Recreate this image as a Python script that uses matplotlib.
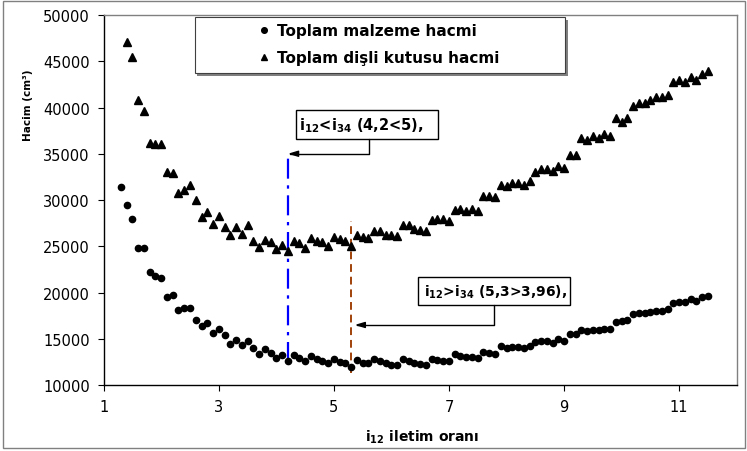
import matplotlib
matplotlib.use('Agg')
import matplotlib.pyplot as plt
from matplotlib.patches import Rectangle

plt.rcParams['font.family'] = ['DejaVu Sans']
plt.rcParams['mathtext.fontset'] = 'dejavusans'

# ---------------- data ----------------
ratio_malzeme = [1.3, 1.4, 1.5, 1.6, 1.7, 1.8, 1.9, 2.0, 2.1, 2.2, 2.3, 2.4, 2.5, 2.6, 2.7,
                 2.8, 2.9, 3.0, 3.1, 3.2, 3.3, 3.4, 3.5, 3.6, 3.7, 3.8, 3.9, 4.0, 4.1, 4.2,
                 4.3, 4.4, 4.5, 4.6, 4.7, 4.8, 4.9, 5.0, 5.1, 5.2, 5.3, 5.4, 5.5, 5.6, 5.7,
                 5.8, 5.9, 6.0, 6.1, 6.2, 6.3, 6.4, 6.5, 6.6, 6.7, 6.8, 6.9, 7.0, 7.1, 7.2,
                 7.3, 7.4, 7.5, 7.6, 7.7, 7.8, 7.9, 8.0, 8.1, 8.2, 8.3, 8.4, 8.5, 8.6, 8.7,
                 8.8, 8.9, 9.0, 9.1, 9.2, 9.3, 9.4, 9.5, 9.6, 9.7, 9.8, 9.9, 10.0, 10.1, 10.2,
                 10.3, 10.4, 10.5, 10.6, 10.7, 10.8, 10.9, 11.0, 11.1, 11.2, 11.3, 11.4, 11.5]
hacim_malzeme = [31440, 29460, 27950, 24780, 24780, 22180, 21750, 21570, 19480, 19730,
                 18110, 18290, 18290, 17030, 16410, 16730, 15650, 16090, 15400, 14430,
                 14900, 14290, 14760, 14000, 13380, 13860, 13420, 12920, 13280, 12600,
                 13280, 12920, 12600, 13100, 12780, 12600, 12350, 12780, 12490, 12350,
                 11980, 12670, 12350, 12350, 12780, 12600, 12350, 12160, 12160, 12810,
                 12560, 12350, 12300, 12160, 12810, 12740, 12630, 12600, 13310, 13170,
                 13060, 13060, 12920, 13600, 13420, 13380, 14180, 13970, 14140, 14140,
                 14000, 14180, 14620, 14760, 14790, 14570, 14940, 14760, 15480, 15510,
                 15990, 15800, 15950, 15980, 16090, 16090, 16840, 16890, 17030, 17640,
                 17780, 17780, 17890, 18030, 18030, 18220, 18860, 19000, 19000, 19330,
                 19080, 19480, 19620]

ratio_kutu = [1.4, 1.5, 1.6, 1.7, 1.8, 1.9, 2.0, 2.1, 2.2, 2.3, 2.4, 2.5, 2.6, 2.7,
              2.8, 2.9, 3.0, 3.1, 3.2, 3.3, 3.4, 3.5, 3.6, 3.7, 3.8, 3.9, 4.0, 4.1, 4.2,
              4.3, 4.4, 4.5, 4.6, 4.7, 4.8, 4.9, 5.0, 5.1, 5.2, 5.3, 5.4, 5.5, 5.6, 5.7,
              5.8, 5.9, 6.0, 6.1, 6.2, 6.3, 6.4, 6.5, 6.6, 6.7, 6.8, 6.9, 7.0, 7.1, 7.2,
              7.3, 7.4, 7.5, 7.6, 7.7, 7.8, 7.9, 8.0, 8.1, 8.2, 8.3, 8.4, 8.5, 8.6, 8.7,
              8.8, 8.9, 9.0, 9.1, 9.2, 9.3, 9.4, 9.5, 9.6, 9.7, 9.8, 9.9, 10.0, 10.1, 10.2,
              10.3, 10.4, 10.5, 10.6, 10.7, 10.8, 10.9, 11.0, 11.1, 11.2, 11.3, 11.4, 11.5]
hacim_kutu = [47110, 45420, 40840, 39650, 36160, 36050, 36050, 33000, 32890, 30760,
              31050, 31650, 29970, 28170, 28670, 27440, 28300, 27080, 26220, 27110,
              26360, 27260, 25600, 24950, 25710, 25490, 24700, 25130, 24520, 25600,
              25320, 24840, 25890, 25600, 25490, 25060, 25970, 25780, 25530, 25060,
              26220, 25970, 25890, 26650, 26650, 26250, 26220, 26140, 27260, 27260,
              26900, 26790, 26650, 27840, 27910, 27910, 27700, 28950, 28990, 28770,
              28990, 28770, 30430, 30460, 30290, 31620, 31480, 31840, 31840, 31620,
              32090, 33000, 33310, 33310, 33160, 33640, 33450, 34830, 34830, 36670,
              36500, 36950, 36700, 37100, 36950, 38830, 38460, 38830, 40130, 40490,
              40490, 40780, 41100, 41100, 41380, 42720, 43010, 42720, 43330, 43010,
              43620, 43950]

x_ticks = [1, 3, 5, 7, 9, 11]
y_ticks = [10000, 15000, 20000, 25000, 30000, 35000, 40000, 45000, 50000]

secim1_x = 4.2
secim1_y = [12500, 35000]
secim2_x = 5.3
secim2_y = [11300, 27700]

label_malzeme = 'Toplam malzeme hacmi'
label_kutu = 'Toplam dişli kutusu hacmi'
note1 = r'$\mathbf{i_{12}}$<$\mathbf{i_{34}}$ (4,2<5),'
note2 = r'$\mathbf{i_{12}}$>$\mathbf{i_{34}}$ (5,3>3,96),'

# ---------------- figure ----------------
fig = plt.figure(figsize=(7.47, 4.52), dpi=100)
fig.patches.append(Rectangle((3 / 747, 3 / 452), 742 / 747, 447 / 452,
                             transform=fig.transFigure, fill=False,
                             edgecolor='#808080', lw=1.0))

ax = fig.add_axes([0.1388, 0.1460, 0.8474, 0.8186])

l1, = ax.plot(ratio_malzeme, hacim_malzeme, ls='none', marker='o', ms=4.5,
              color='black', label=label_malzeme, zorder=3)
l2, = ax.plot(ratio_kutu, hacim_kutu, ls='none', marker='^', ms=5.5,
              color='black', label=label_kutu, zorder=3)

ax.plot([secim1_x, secim1_x], secim1_y, color='#0000FF', lw=1.6,
        dashes=(9, 3, 1.5, 3), zorder=2)
ax.plot([secim2_x, secim2_x], secim2_y, color='#A0420A', lw=1.4,
        dashes=(4, 2.5), zorder=2)

ax.set_xlim(1, 12)
ax.set_ylim(10000, 50000)
ax.set_xticks(x_ticks)
ax.set_yticks(y_ticks)
ax.tick_params(axis='both', direction='out', length=4, width=0.8,
               labelsize=10.5, color='black')
ax.tick_params(axis='y', pad=6)
ax.tick_params(axis='x', pad=6)

for side in ['left', 'bottom']:
    ax.spines[side].set_color('black')
    ax.spines[side].set_linewidth(1.0)
for side in ['top', 'right']:
    ax.spines[side].set_color('#808080')
    ax.spines[side].set_linewidth(1.0)

ax.set_ylabel('Hacim (cm³)', fontsize=7.5, fontweight='bold')
ax.yaxis.set_label_coords(-0.112, 0.758)
ax.set_xlabel(r'$\mathbf{i_{12}}$ iletim oranı', fontsize=10, fontweight='bold')
ax.xaxis.set_label_coords(0.503, -0.115)

# legend frame with shadow
ax.add_patch(Rectangle((0.1442 + 0.004, 0.8432 - 0.007), 0.5846, 0.1514,
                       transform=ax.transAxes, facecolor='#808080',
                       edgecolor='none', zorder=4, clip_on=False))
ax.add_patch(Rectangle((0.1442, 0.8432), 0.5846, 0.1514,
                       transform=ax.transAxes, facecolor='white',
                       edgecolor='#404040', lw=0.8, zorder=4, clip_on=False))
leg = ax.legend(handles=[l1, l2], loc='center left', bbox_to_anchor=(0.2412, 0.9216),
                frameon=False, prop={'size': 11, 'weight': 'bold'},
                handlelength=1.0, handletextpad=0.35, borderpad=0,
                borderaxespad=0, labelspacing=0.8, markerscale=0.9)
leg.set_zorder(5)

# annotation 1
ax.add_patch(Rectangle((4.34, 36590), 2.47, 3140, facecolor='white',
                       edgecolor='black', lw=1.0, zorder=4))
ax.text(4.39, 38160, note1, fontsize=10.5, fontweight='bold',
        ha='left', va='center', zorder=5)
ax.annotate('', xy=(secim1_x, 35000), xytext=(5.61, 36590),
            arrowprops=dict(arrowstyle='-|>,head_length=0.6,head_width=0.18',
                            color='black', lw=1.0, shrinkA=0, shrinkB=0,
                            connectionstyle='angle,angleA=90,angleB=0,rad=0'),
            zorder=4)

# annotation 2
ax.add_patch(Rectangle((6.46, 18650), 2.64, 3060, facecolor='white',
                       edgecolor='black', lw=1.0, zorder=4))
ax.text(6.56, 20180, note2, fontsize=10, fontweight='bold',
        ha='left', va='center', zorder=5)
ax.annotate('', xy=(5.36, 16490), xytext=(7.78, 18650),
            arrowprops=dict(arrowstyle='-|>,head_length=0.6,head_width=0.18',
                            color='black', lw=1.0, shrinkA=0, shrinkB=0,
                            connectionstyle='angle,angleA=90,angleB=0,rad=0'),
            zorder=4)

fig.savefig('out.png', dpi=100)
